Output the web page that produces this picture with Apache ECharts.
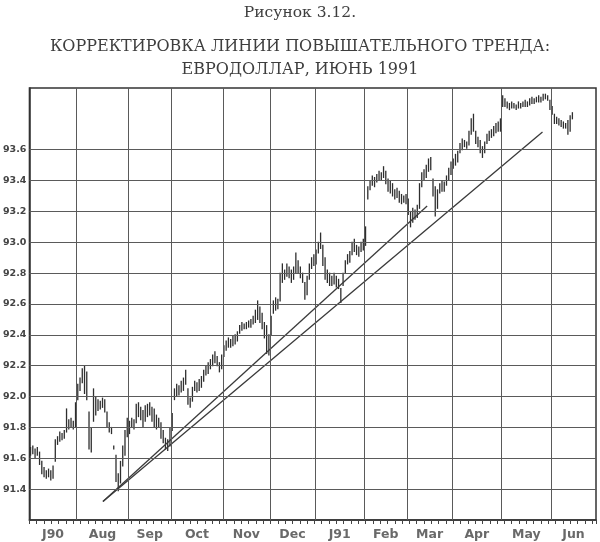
<!DOCTYPE html>
<html>
<head>
<meta charset="utf-8">
<script src="https://cdn.jsdelivr.net/npm/echarts@6/dist/echarts.min.js"></script>
<style>
html,body{margin:0;padding:0;background:#fff;}
#chart{width:600px;height:542px;}
</style>
</head>
<body>
<div id="chart"></div>
<script>
// Month names and month boundaries (in trading-day index)
var months = ['J90','Aug','Sep','Oct','Nov','Dec','J91','Feb','Mar','Apr','May','Jun'];
var monthBounds = [0,21,44,63,86,107,127,149,168,188,210,232,252];
// Y axis tick labels / grid values
var yTicks = [91.4,91.6,91.8,92.0,92.2,92.4,92.6,92.8,93.0,93.2,93.4,93.6];

// Daily highs (July 1990 - June 1991)
var high = [
91.67,91.68,91.66,91.67,91.64,91.58,91.54,91.52,91.53,91.52,
91.55,91.72,91.74,91.77,91.76,91.78,91.92,91.85,91.86,91.84,
91.96,92.08,92.12,92.18,92.20,92.16,91.90,91.80,92.05,92.00,
91.98,91.97,91.99,91.98,91.90,91.83,91.80,91.68,91.62,91.50,
91.58,91.68,91.78,91.86,91.84,91.86,91.85,91.95,91.96,91.93,
91.91,91.94,91.95,91.96,91.93,91.92,91.88,91.86,91.83,91.78,
91.73,91.72,91.80,91.89,92.05,92.08,92.07,92.10,92.12,92.17,
92.05,91.99,92.06,92.10,92.09,92.11,92.13,92.17,92.20,92.22,
92.24,92.27,92.29,92.26,92.22,92.27,92.33,92.36,92.38,92.37,
92.39,92.40,92.42,92.46,92.48,92.47,92.48,92.49,92.50,92.52,
92.56,92.62,92.58,92.54,92.48,92.46,92.40,92.52,92.62,92.64,
92.63,92.80,92.86,92.82,92.86,92.84,92.82,92.84,92.93,92.88,
92.84,92.80,92.74,92.78,92.86,92.90,92.92,92.95,93.00,93.06,
92.98,92.90,92.82,92.80,92.78,92.80,92.78,92.76,92.70,92.80,
92.88,92.92,92.94,93.00,93.02,92.98,92.97,93.00,93.02,93.10,
93.36,93.40,93.43,93.42,93.44,93.46,93.45,93.49,93.46,93.41,
93.40,93.38,93.34,93.35,93.33,93.31,93.30,93.31,93.28,93.20,
93.22,93.21,93.24,93.38,93.45,93.47,93.50,93.54,93.55,93.41,
93.36,93.34,93.38,93.40,93.39,93.43,93.48,93.52,93.54,93.57,
93.59,93.64,93.67,93.66,93.65,93.72,93.80,93.83,93.72,93.68,
93.66,93.62,93.65,93.70,93.72,93.73,93.75,93.77,93.78,93.80,
93.95,93.93,93.91,93.90,93.91,93.90,93.89,93.91,93.90,93.91,
93.92,93.91,93.93,93.94,93.93,93.94,93.95,93.94,93.96,93.96,
93.95,93.92,93.88,93.83,93.81,93.80,93.79,93.78,93.77,93.79,
93.82,93.84
];
// Daily lows
var low = [
91.62,91.63,91.60,91.62,91.56,91.50,91.48,91.47,91.48,91.46,
91.47,91.58,91.69,91.71,91.72,91.73,91.77,91.79,91.80,91.79,
91.80,91.98,92.04,92.09,92.02,91.98,91.66,91.64,91.84,91.88,
91.91,91.92,91.93,91.90,91.80,91.77,91.76,91.66,91.45,91.39,
91.44,91.55,91.62,91.74,91.76,91.80,91.79,91.83,91.87,91.85,
91.80,91.84,91.87,91.88,91.84,91.80,91.79,91.80,91.73,91.70,
91.66,91.65,91.68,91.78,91.98,92.00,92.01,92.03,92.04,92.08,
91.95,91.93,91.97,92.04,92.03,92.04,92.06,92.10,92.14,92.15,
92.18,92.20,92.22,92.20,92.16,92.18,92.26,92.30,92.32,92.32,
92.33,92.34,92.36,92.41,92.43,92.44,92.44,92.45,92.45,92.47,
92.48,92.50,92.48,92.44,92.38,92.28,92.27,92.40,92.54,92.56,
92.57,92.62,92.74,92.76,92.78,92.77,92.74,92.76,92.80,92.80,
92.77,92.74,92.63,92.66,92.76,92.83,92.85,92.86,92.93,92.96,
92.85,92.76,92.74,92.72,92.72,92.73,92.71,92.70,92.61,92.72,
92.80,92.86,92.87,92.92,92.94,92.92,92.91,92.94,92.95,92.98,
93.28,93.34,93.37,93.36,93.39,93.40,93.40,93.42,93.38,93.33,
93.32,93.30,93.28,93.29,93.26,93.25,93.26,93.25,93.18,93.10,
93.13,93.15,93.16,93.22,93.36,93.40,93.42,93.46,93.47,93.30,
93.17,93.22,93.32,93.33,93.33,93.37,93.40,93.44,93.48,93.50,
93.52,93.58,93.60,93.62,93.61,93.63,93.70,93.72,93.64,93.62,
93.58,93.55,93.58,93.64,93.66,93.68,93.69,93.71,93.72,93.72,
93.88,93.88,93.87,93.86,93.87,93.87,93.86,93.87,93.87,93.88,
93.88,93.88,93.89,93.90,93.90,93.91,93.91,93.91,93.92,93.93,
93.92,93.86,93.83,93.77,93.77,93.76,93.75,93.74,93.74,93.70,
93.72,93.80
];
// Trend lines: [trading-day index, price]
var trendSteep = [[32.7, 91.32], [176.9, 93.235]];
var trendFlat  = [[32.7, 91.32], [228.2, 93.715]];

var bars = high.map(function (h, i) { return [i + 0.5, h, low[i]]; });
var monthMid = months.map(function (m, i) {
  return [(monthBounds[i] + monthBounds[i + 1]) / 2, 91.2];
});
var ink = '#3a3a3a';
var gridCol = '#5a5a5a';
var serifStyle = {fontFamily: 'DejaVu Serif', fontWeight: 'normal', color: '#3e3e3e'};

var chart = echarts.init(document.getElementById('chart'), null, {renderer: 'canvas'});
chart.setOption({
  animation: false,
  backgroundColor: '#fff',
  title: [
    {text: 'Рисунок 3.12.', left: 'center', top: 0,
     textStyle: Object.assign({fontSize: 15.5}, serifStyle)},
    {text: 'КОРРЕКТИРОВКА ЛИНИИ ПОВЫШАТЕЛЬНОГО ТРЕНДА:', left: 'center', top: 34,
     textStyle: Object.assign({fontSize: 16}, serifStyle)},
    {text: 'ЕВРОДОЛЛАР, ИЮНЬ 1991', left: 'center', top: 57,
     textStyle: Object.assign({fontSize: 16}, serifStyle)}
  ],
  grid: {left: 28, right: 4, top: 88, bottom: 22, show: true, borderColor: '#333', borderWidth: 1.5, backgroundColor: 'transparent'},
  xAxis: {
    type: 'value', min: 0, max: 252, interval: 3.25,
    axisLine: {show: true, lineStyle: {color: '#333', width: 1.5}},
    axisTick: {show: true, length: 4, lineStyle: {color: '#444'}},
    axisLabel: {show: false},
    splitLine: {show: false}
  },
  yAxis: {
    type: 'value', min: 91.2, max: 94.0, interval: 0.2,
    axisLine: {show: true, lineStyle: {color: '#333', width: 1.5}},
    axisTick: {show: false},
    splitLine: {show: false},
    axisLabel: {
      margin: 3,
      fontFamily: 'DejaVu Sans', fontWeight: 'bold', fontSize: 9.5, color: '#444',
      formatter: function (v) {
        var s = v.toFixed(1);
        return yTicks.some(function (t) { return t.toFixed(1) === s; }) ? s : '';
      }
    }
  },
  series: [
    {
      type: 'line', data: [], silent: true,
      markLine: {
        silent: true, symbol: 'none', label: {show: false},
        lineStyle: {color: gridCol, width: 1, type: 'solid'},
        data: yTicks.map(function (t) { return {yAxis: t}; })
          .concat(monthBounds.slice(1, -1).map(function (b) { return {xAxis: b}; }))
      }
    },
    {
      type: 'custom', data: bars, clip: true,
      renderItem: function (params, api) {
        var p1 = api.coord([api.value(0), api.value(1)]);
        var p2 = api.coord([api.value(0), api.value(2)]);
        return {type: 'line', shape: {x1: p1[0], y1: p1[1] - 0.5, x2: p2[0], y2: p2[1] + 0.5},
                style: {stroke: '#2e2e2e', lineWidth: 1.3}};
      }
    },
    {type: 'line', data: trendSteep, symbol: 'none', lineStyle: {color: ink, width: 1.3}},
    {type: 'line', data: trendFlat, symbol: 'none', lineStyle: {color: ink, width: 1.3}},
    {
      type: 'scatter', data: monthMid, symbolSize: 0, clip: false, silent: true,
      label: {
        show: true, position: 'bottom', distance: 8,
        fontFamily: 'DejaVu Sans', fontWeight: 'bold', fontSize: 12.5, color: '#444',
        formatter: function (p) { return months[p.dataIndex]; }
      }
    }
  ]
});
</script>
</body>
</html>
